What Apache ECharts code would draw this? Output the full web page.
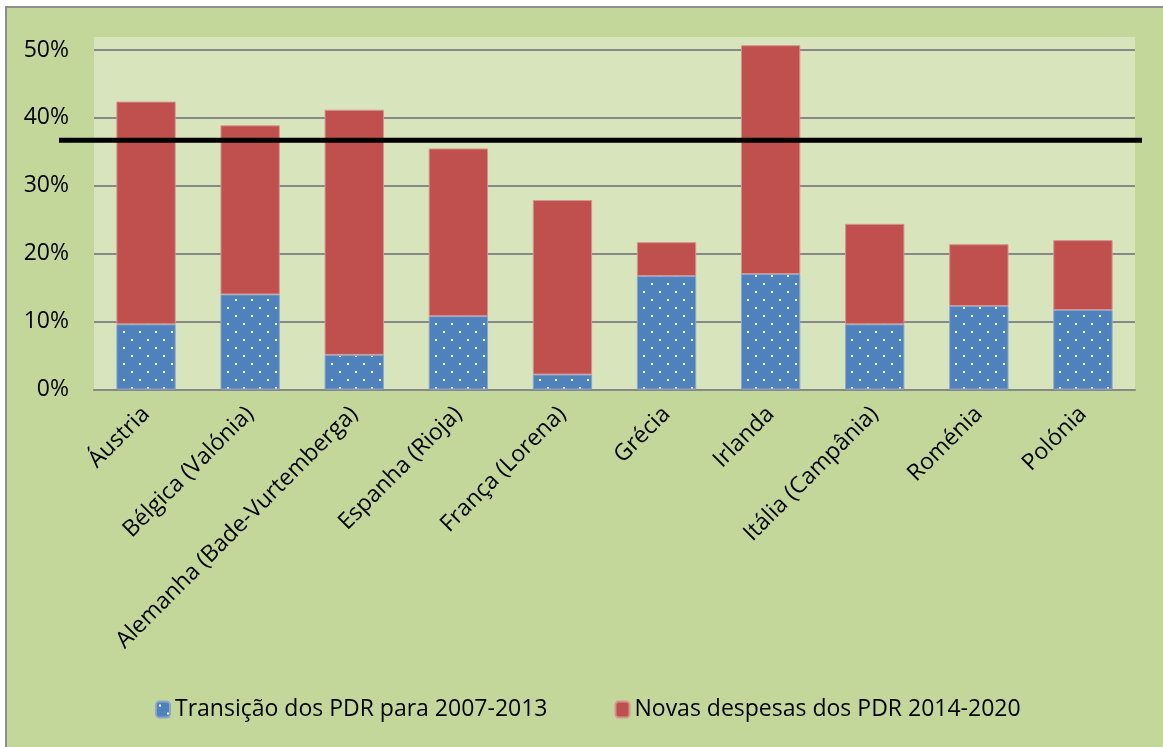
<!DOCTYPE html>
<html>
<head>
<meta charset="utf-8">
<script src="https://cdn.jsdelivr.net/npm/echarts@6/dist/echarts.min.js"></script>
<style>
  html, body { margin: 0; padding: 0; background: #fff; }
  #frame {
    position: absolute; left: 5px; top: 6px; width: 1170px; height: 760px;
    background: #c4d79b; border: 2px solid #8e8e8e;
  }
  #plotbg {
    position: absolute; left: 94px; top: 37px; width: 1041px; height: 353px;
    background: #d8e4bc;
  }
  #chart { position: absolute; left: 0; top: 0; width: 1163px; height: 747px; }
</style>
</head>
<body>
<div id="frame"></div>
<div id="plotbg"></div>
<div id="chart"></div>
<script>
// categorias e valores (% da dotação)
const categories = [
  "Áustria", "Bélgica (Valónia)", "Alemanha (Bade-Vurtemberga)", "Espanha (Rioja)",
  "França (Lorena)", "Grécia", "Irlanda", "Itália (Campânia)", "Roménia", "Polónia"
];
const transicao = [9.6, 14.0, 5.1, 10.8, 2.2, 16.7, 17.0, 9.6, 12.3, 11.7];
const novas = [32.8, 24.9, 36.1, 24.7, 25.7, 5.0, 33.7, 14.8, 9.1, 10.3];
const limiar = 36.7;
const seriesNames = ["Transição dos PDR para 2007-2013", "Novas despesas dos PDR 2014-2020"];

const FONT = "Open Sans";

// padrão pontilhado das barras azuis
function dotPattern() {
  const c = document.createElement("canvas");
  c.width = 16;
  c.height = 16;
  const ctx = c.getContext("2d");
  ctx.fillStyle = "#4f81bd";
  ctx.fillRect(0, 0, 16, 16);
  ctx.fillStyle = "#ffffff";
  ctx.fillRect(3, 3, 2, 2);
  ctx.fillRect(11, 11, 2, 2);
  return c;
}

const chart = echarts.init(document.getElementById("chart"));

const option = {
  backgroundColor: "transparent",
  animation: false,
  textStyle: { fontFamily: FONT },
  grid: [
    { left: 94, right: 28, top: 50, bottom: 357.5, show: false },
    { left: 59, right: 21, top: 50, bottom: 357.5, show: false }
  ],
  legend: {
    data: seriesNames,
    left: 155,
    top: 698,
    padding: 0,
    itemWidth: 14,
    itemHeight: 16,
    itemGap: 67,
    textStyle: { fontFamily: FONT, fontSize: 23, color: "#000" }
  },
  xAxis: [
    {
      type: "category",
      gridIndex: 0,
      data: categories,
      axisLine: { show: true, lineStyle: { color: "#888888", width: 2 } },
      axisTick: { show: false },
      axisLabel: {
        rotate: 45,
        margin: 21,
        interval: 0,
        color: "#000",
        fontFamily: FONT,
        fontSize: 23
      }
    },
    {
      type: "value",
      gridIndex: 1,
      min: 0,
      max: 1,
      show: false
    }
  ],
  yAxis: [
    {
      type: "value",
      gridIndex: 0,
      min: 0,
      max: 50,
      interval: 10,
      axisLine: { show: false },
      axisTick: { show: false },
      axisLabel: {
        formatter: "{value}%",
        margin: 25,
        color: "#000",
        fontFamily: FONT,
        fontSize: 23
      },
      splitLine: { lineStyle: { color: "#888888", width: 2 } }
    },
    {
      type: "value",
      gridIndex: 1,
      min: 0,
      max: 50,
      show: false
    }
  ],
  series: [
    {
      name: seriesNames[0],
      type: "bar",
      stack: "total",
      barWidth: "57%",
      clip: false,
      data: transicao,
      itemStyle: {
        color: { image: dotPattern(), repeat: "repeat" },
        borderColor: "#8aa6cf",
        borderWidth: 1
      }
    },
    {
      name: seriesNames[1],
      type: "bar",
      stack: "total",
      barWidth: "57%",
      clip: false,
      data: novas,
      itemStyle: {
        color: "#c0504d",
        borderColor: "#d6928f",
        borderWidth: 1
      }
    },
    {
      name: "limiar",
      type: "line",
      xAxisIndex: 1,
      yAxisIndex: 1,
      data: [[0, limiar], [1, limiar]],
      symbol: "none",
      silent: true,
      z: 10,
      lineStyle: { color: "#000", width: 5 }
    }
  ]
};

chart.setOption(option);
</script>
</body>
</html>
